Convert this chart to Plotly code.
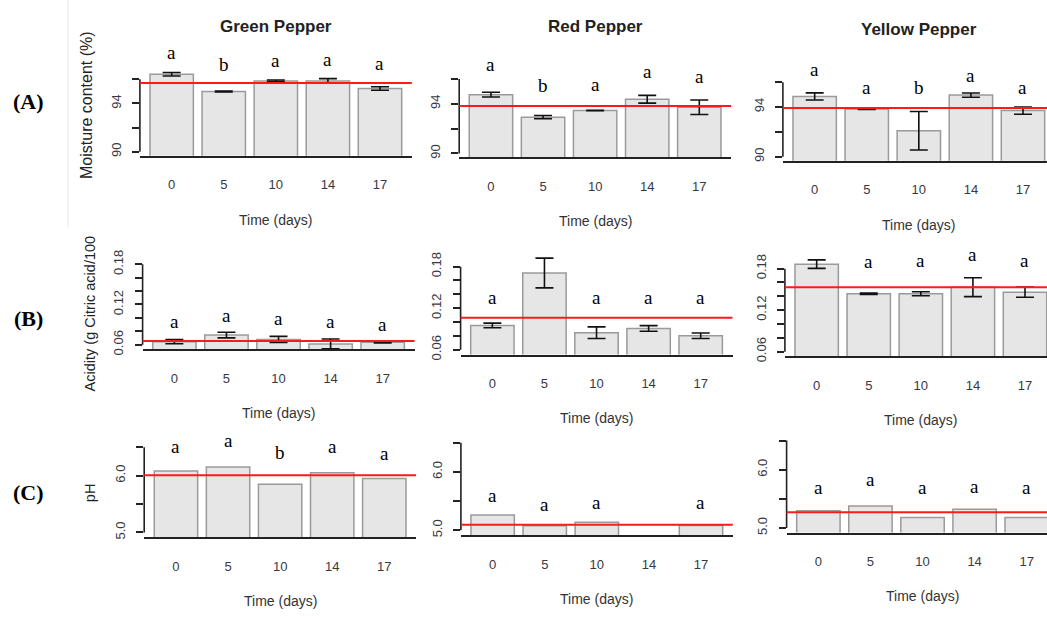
import plotly.graph_objects as go

# ---------------- data ----------------
days = ["0", "5", "10", "14", "17"]
peppers = ["Green Pepper", "Red Pepper", "Yellow Pepper"]
row_labels = ["(A)", "(B)", "(C)"]
y_titles = ["Moisture content (%)", "Acidity (g Citric acid/100", "pH"]

# (A) Moisture content (%)
green_moist = [96.42, 94.99, 95.87, 95.87, 95.24]
green_moist_sd = [0.14, 0.03, 0.08, 0.19, 0.14]
green_moist_let = ["a", "b", "a", "a", "a"]
green_moist_let_y = [98.19, 97.23, 97.56, 97.64, 97.29]
green_moist_ref = 95.70

red_moist = [94.73, 92.92, 93.45, 94.36, 93.72]
red_moist_sd = [0.19, 0.13, 0.02, 0.31, 0.585]
red_moist_let = ["a", "b", "a", "a", "a"]
red_moist_let_y = [97.18, 95.50, 95.58, 96.56, 96.16]
red_moist_ref = 93.82

yellow_moist = [94.85, 93.84, 92.09, 94.96, 93.71]
yellow_moist_sd = [0.29, 0.03, 1.55, 0.17, 0.29]
yellow_moist_let = ["a", "a", "b", "a", "a"]
yellow_moist_let_y = [97.03, 95.57, 95.57, 96.55, 95.57]
yellow_moist_ref = 93.92

# (B) Acidity
green_acid = [0.0645, 0.0744, 0.0679, 0.0611, 0.0635]
green_acid_sd = [0.0030, 0.0042, 0.0045, 0.0074, 0.0010]
green_acid_let = ["a", "a", "a", "a", "a"]
green_acid_let_y = [0.0941, 0.1040, 0.0990, 0.0941, 0.0907]
green_acid_ref = 0.0656

red_acid = [0.0950, 0.1708, 0.0845, 0.0907, 0.0802]
red_acid_sd = [0.0034, 0.0215, 0.0084, 0.0040, 0.0040]
red_acid_let = ["a", "b", "a", "a", "a"]
red_acid_let_y = [0.1360, 0.2243, 0.1360, 0.1360, 0.1360]
red_acid_ref = 0.1060

yellow_acid = [0.1865, 0.1436, 0.1436, 0.1532, 0.1460]
yellow_acid_sd = [0.0062, 0.0010, 0.0029, 0.0136, 0.0074]
yellow_acid_let = ["b", "a", "a", "a", "a"]
yellow_acid_let_y = [0.2272, 0.1904, 0.1914, 0.2000, 0.1922]
yellow_acid_ref = 0.1532

# (C) pH
green_ph = [6.080, 6.149, 5.847, 6.050, 5.946]
green_ph_let = ["a", "a", "b", "a", "a"]
green_ph_let_y = [6.515, 6.614, 6.410, 6.515, 6.381]
green_ph_ref = 6.004

red_ph = [5.264, 5.077, 5.139, None, 5.083]
red_ph_let = ["a", "a", "a", "", "a"]
red_ph_let_y = [5.603, 5.445, 5.478, None, 5.473]
red_ph_ref = 5.094

yellow_ph = [5.296, 5.376, 5.177, 5.319, 5.177]
yellow_ph_let = ["a", "a", "a", "a", "a"]
yellow_ph_let_y = [5.688, 5.829, 5.693, 5.716, 5.688]
yellow_ph_ref = 5.268

# axis ticks per row
moist_ticks = [90, 92, 94, 96]
moist_ticktext = ["90", "", "94", ""]
acid_ticks = [0.06, 0.08, 0.10, 0.12, 0.14, 0.16, 0.18]
acid_ticktext = ["0.06", "", "", "0.12", "", "", "0.18"]
ph_ticks = [5.0, 5.5, 6.0, 6.5]
ph_ticktext = ["5.0", "", "6.0", ""]

panels = [
    [(green_moist, green_moist_sd, green_moist_let, green_moist_let_y, green_moist_ref),
     (red_moist, red_moist_sd, red_moist_let, red_moist_let_y, red_moist_ref),
     (yellow_moist, yellow_moist_sd, yellow_moist_let, yellow_moist_let_y, yellow_moist_ref)],
    [(green_acid, green_acid_sd, green_acid_let, green_acid_let_y, green_acid_ref),
     (red_acid, red_acid_sd, red_acid_let, red_acid_let_y, red_acid_ref),
     (yellow_acid, yellow_acid_sd, yellow_acid_let, yellow_acid_let_y, yellow_acid_ref)],
    [(green_ph, None, green_ph_let, green_ph_let_y, green_ph_ref),
     (red_ph, None, red_ph_let, red_ph_let_y, red_ph_ref),
     (yellow_ph, None, yellow_ph_let, yellow_ph_let_y, yellow_ph_ref)],
]
row_ticks = [(moist_ticks, moist_ticktext), (acid_ticks, acid_ticktext), (ph_ticks, ph_ticktext)]

# ---------------- layout geometry (pixels) ----------------
W, H = 1047, 617
row_yrange = [[89.68, 98.32], [0.053, 0.205], [4.92, 6.875]]
col_left = [[139.9, 459.2, 782.9], [142.6, 460.6, 784.9], [144.2, 460.9, 786.6]]
row_ybounds = [[(157.2, 51.8), (158.9, 50.6), (162.3, 53.8)],
               [(352.8, 250.0), (358.0, 251.8), (360.0, 253.8)],
               [(542.2, 430.0), (540.2, 425.0), (537.8, 422.9)]]
REGION_W = 271.9
PX_PER_CAT = 52.08
CAT_LO = -0.61
title_y = [27, 27, 30]

SANS = "Liberation Sans, Arial, sans-serif"
SERIF = "Liberation Serif, Times New Roman, serif"
TICK_COL = "#383844"


def fx(px):
    return px / W


def fy(py):
    return 1 - py / H


def paper_text(px, py, text, font, angle=0):
    return dict(x=fx(px), y=fy(py), xref="paper", yref="paper", text=text,
                xanchor="center", yanchor="middle", textangle=angle,
                showarrow=False, font=font)


fig = go.Figure()
layout = {}
annotations = []
shapes = []

for r in range(3):
    ticks, ticktext = row_ticks[r]
    for c in range(3):
        n = r * 3 + c + 1
        sfx = "" if n == 1 else str(n)
        xa, ya = "x" + sfx, "y" + sfx
        vals, sd, lets, let_y, ref = panels[r][c]
        left = col_left[r][c]
        right = min(left + REGION_W, W)
        bottom, top = row_ybounds[r][c]

        bar = dict(x=days, y=vals, xaxis=xa, yaxis=ya,
                   marker=dict(color="#e6e6e6", line=dict(color="#9a9a9a", width=1.5)),
                   showlegend=False, hoverinfo="skip")
        if sd is not None:
            bar["error_y"] = dict(type="data", array=sd, visible=True,
                                  color="#111111", thickness=1.6, width=9)
        fig.add_trace(go.Bar(**bar))

        layout["xaxis" + sfx] = dict(
            domain=[fx(left), fx(right)], anchor=ya, type="category",
            categoryorder="array", categoryarray=days,
            range=[CAT_LO, CAT_LO + (right - left) / PX_PER_CAT],
            showline=True, linecolor="#222222", linewidth=2, ticks="",
            showgrid=False, zeroline=False, fixedrange=True,
            tickfont=dict(family=SANS, size=13, color=TICK_COL),
            ticklabelstandoff=16)
        layout["yaxis" + sfx] = dict(
            domain=[fy(bottom), fy(top)], anchor=xa, range=row_yrange[r],
            showline=False, showgrid=False, zeroline=False, fixedrange=True,
            tickmode="array", tickvals=ticks, ticktext=ticktext,
            ticks="outside", ticklen=7, tickwidth=1.5, tickcolor="#222222",
            tickangle=-90, tickfont=dict(family=SANS, size=13, color=TICK_COL),
            ticklabelstandoff=6)

        # y axis line spanning the tick range
        shapes.append(dict(type="line", xref=xa + " domain", yref=ya,
                           x0=0, x1=0, y0=ticks[0], y1=ticks[-1],
                           line=dict(color="#222222", width=1.6)))
        # red reference line
        shapes.append(dict(type="line", xref=xa + " domain", yref=ya,
                           x0=0, x1=1, y0=ref, y1=ref, layer="above",
                           line=dict(color="#ff1a1a", width=2)))

        # significance letters (x given as category index)
        for i, (l, ly) in enumerate(zip(lets, let_y)):
            if l:
                annotations.append(dict(x=i, y=ly, xref=xa, yref=ya, text=l,
                                        xanchor="center", yanchor="middle",
                                        showarrow=False,
                                        font=dict(family=SERIF, size=19, color="#000000")))

        # x axis title
        cx = left + REGION_W / 2
        annotations.append(paper_text(cx, bottom + 64.5, "Time (days)",
                                      dict(family=SANS, size=14, color="#333333")))
        if r == 0:
            annotations.append(paper_text(cx, title_y[c], "<b>" + peppers[c] + "</b>",
                                          dict(family=SANS, size=17, color="#222222")))

# y axis titles (left column)
ytitle_pos = [(87, 106, 16), (90, 316.5, 14.5), (90, 498, 14.5)]
for t, (px, py, fs) in zip(y_titles, ytitle_pos):
    annotations.append(paper_text(px, py, t, dict(family=SANS, size=fs, color="#222222"), -90))

# row labels
for lab, py in zip(row_labels, [103, 322, 497]):
    annotations.append(paper_text(28, py, "<b>" + lab + "</b>",
                                  dict(family=SERIF, size=22, color="#000000")))

# faint border of the first composite image
shapes.append(dict(type="line", xref="paper", yref="paper", x0=fx(68), x1=fx(68),
                   y0=fy(0), y1=fy(230), line=dict(color="#e6e6e6", width=1)))

fig.update_layout(**layout)
fig.update_layout(width=W, height=H, margin=dict(l=0, r=0, t=0, b=0),
                  paper_bgcolor="white", plot_bgcolor="white",
                  bargap=0.1667, annotations=annotations, shapes=shapes)

fig.write_html("out.html", config={"displayModeBar": False},
               post_script="document.body.style.margin='0';document.body.style.overflow='hidden';")
